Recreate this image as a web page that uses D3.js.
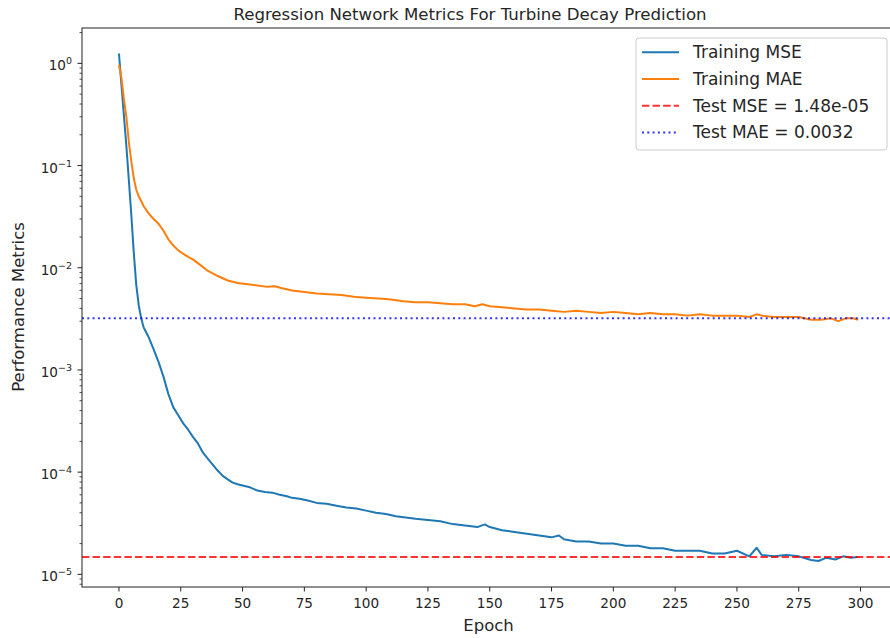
<!DOCTYPE html>
<html>
<head>
<meta charset="utf-8">
<script src="https://cdn.jsdelivr.net/npm/d3@7"></script>
<style>
  body { margin: 0; background: #fff; }
  svg { display: block; font-family: "DejaVu Sans", sans-serif; }
</style>
</head>
<body>
<svg width="890" height="638"></svg>
<script>
// Training curves (epoch, value)
const mseEpochs = [0,1,2,3,4,5,6,7,8,9,10,12,14,16,18,20,22,24,26,28,30,32,34,36,38,40,42,44,46,48,50,53,56,59,62,65,68,70,73,76,80,84,88,92,96,100,104,108,112,116,120,125,130,135,140,145,148,150,155,160,165,170,175,178,180,185,190,195,200,205,210,215,220,225,230,235,240,245,250,255,258,260,265,270,275,280,283,286,290,293,296,299];
const mseValues = [1.25,0.62,0.31,0.155,0.072,0.033,0.014,0.0068,0.0043,0.0032,0.0026,0.0021,0.00160,0.00120,0.00086,0.00058,0.00043,0.00036,0.00030,0.00026,0.00022,0.00019,0.000155,0.000135,0.000118,0.000103,0.000092,0.000085,0.000079,0.000076,0.000074,0.000071,0.000066,0.000064,0.000063,0.000060,0.000058,0.000056,0.000055,0.000053,0.000050,0.000049,0.000047,0.000045,0.000044,0.000042,0.000040,0.000039,0.000037,0.000036,0.000035,0.000034,0.000033,0.000031,0.000030,0.000029,0.0000308,0.000029,0.000027,0.000026,0.000025,0.000024,0.000023,0.000024,0.000022,0.000021,0.000021,0.000020,0.000020,0.000019,0.000019,0.000018,0.000018,0.000017,0.000017,0.000017,0.000016,0.000016,0.000017,0.000015,0.0000182,0.0000155,0.000015,0.0000155,0.000015,0.0000138,0.0000135,0.0000145,0.000014,0.000015,0.0000145,0.0000148];

const maeEpochs = [0,1,2,3,4,5,6,7,8,9,10,12,14,16,18,20,22,24,26,28,30,33,36,40,44,48,52,56,60,63,66,70,75,80,85,90,95,100,105,110,115,120,125,130,135,140,144,147,150,155,160,165,170,175,180,185,190,195,200,205,210,215,220,225,230,235,240,245,250,255,258,260,265,270,275,280,284,288,291,294,297,299];
const maeValues = [0.97,0.72,0.45,0.30,0.17,0.11,0.075,0.058,0.050,0.045,0.040,0.034,0.030,0.027,0.023,0.019,0.0165,0.0148,0.0137,0.0128,0.0120,0.0106,0.0093,0.0083,0.0075,0.0071,0.0069,0.0067,0.0065,0.0066,0.0063,0.0060,0.0058,0.0056,0.0055,0.0054,0.0052,0.0051,0.0050,0.0049,0.0047,0.0046,0.0046,0.0045,0.0044,0.0044,0.0042,0.0044,0.0042,0.0041,0.0040,0.0039,0.0039,0.0038,0.0037,0.0038,0.0037,0.0036,0.0037,0.0036,0.0035,0.0036,0.0035,0.0035,0.0034,0.0035,0.0034,0.0034,0.0034,0.0033,0.0035,0.0034,0.0033,0.0033,0.0033,0.0031,0.0031,0.0032,0.0030,0.0032,0.0032,0.0031];

const testMSE = 1.48e-05;
const testMAE = 0.0032;

const xTicks = [0,25,50,75,100,125,150,175,200,225,250,275,300];
const legendLabels = ["Training MSE", "Training MAE", "Test MSE = 1.48e-05", "Test MAE = 0.0032"];

const svg = d3.select("svg");
const margin = { top: 28, left: 82 };
const width = 813;   // axes run past the right edge, as in the picture
const height = 559;

const chart = svg.append("g")
    .attr("transform", `translate(${margin.left}, ${margin.top})`);

const x = d3.scaleLinear()
    .domain([-14.95, 313.95])
    .range([0, width]);

const y = d3.scaleLog()
    .domain([Math.pow(10, -5.124), Math.pow(10, 0.346)])
    .range([height, 0]);

const mse = mseEpochs.map((e, i) => [e, mseValues[i]]);
const mae = maeEpochs.map((e, i) => [e, maeValues[i]]);

const line = d3.line()
    .x(d => x(d[0]))
    .y(d => y(d[1]));

chart.append("path")
    .datum(mse)
    .attr("fill", "none")
    .attr("stroke", "#1f77b4")
    .attr("stroke-width", 2)
    .attr("stroke-linejoin", "round")
    .attr("d", line);

chart.append("path")
    .datum(mae)
    .attr("fill", "none")
    .attr("stroke", "#ff7f0e")
    .attr("stroke-width", 2)
    .attr("stroke-linejoin", "round")
    .attr("d", line);

// horizontal test lines
chart.append("line")
    .attr("x1", 0).attr("x2", width)
    .attr("y1", y(testMSE)).attr("y2", y(testMSE))
    .attr("stroke", "#ff0000").attr("stroke-opacity", 0.8)
    .attr("stroke-width", 2)
    .attr("stroke-dasharray", "7.4,3.2");

chart.append("line")
    .attr("x1", 0).attr("x2", width)
    .attr("y1", y(testMAE)).attr("y2", y(testMAE))
    .attr("stroke", "#0000ff").attr("stroke-opacity", 0.8)
    .attr("stroke-width", 2)
    .attr("stroke-dasharray", "2,3.3");

// frame
chart.append("rect")
    .attr("width", width).attr("height", height)
    .attr("fill", "none")
    .attr("stroke", "#222").attr("stroke-width", 1);

// x axis
const xAxis = chart.append("g")
    .attr("transform", `translate(0, ${height})`);
xTicks.forEach(t => {
    xAxis.append("line")
        .attr("x1", x(t)).attr("x2", x(t))
        .attr("y1", 0).attr("y2", 4.5)
        .attr("stroke", "#222");
    xAxis.append("text")
        .attr("x", x(t)).attr("y", 20.5)
        .attr("text-anchor", "middle")
        .attr("font-size", 13.6)
        .attr("fill", "#262626")
        .text(t);
});

// y axis (log)
const yAxis = chart.append("g");
y.ticks().forEach(t => {
    const lg = Math.log10(t);
    const major = Math.abs(lg - Math.round(lg)) < 1e-9;
    yAxis.append("line")
        .attr("x1", major ? -4.5 : -2.5).attr("x2", 0)
        .attr("y1", y(t)).attr("y2", y(t))
        .attr("stroke", "#222").attr("stroke-width", major ? 1 : 0.8);
    if (major) {
        const e = Math.round(lg);
        const label = yAxis.append("text")
            .attr("x", -10).attr("y", y(t) + 7)
            .attr("text-anchor", "end")
            .attr("font-size", 13.6)
            .attr("fill", "#262626");
        label.append("tspan").text("10");
        label.append("tspan")
            .attr("dy", -6)
            .attr("font-size", 9.5)
            .text(e === 0 ? "0" : "\u2212" + Math.abs(e));
    }
});

// labels
svg.append("text")
    .attr("x", 488.5).attr("y", 631)
    .attr("text-anchor", "middle")
    .attr("font-size", 16.5)
    .attr("fill", "#262626")
    .text("Epoch");

svg.append("text")
    .attr("transform", "translate(24, 307) rotate(-90)")
    .attr("text-anchor", "middle")
    .attr("font-size", 16.5)
    .attr("fill", "#262626")
    .text("Performance Metrics");

svg.append("text")
    .attr("x", 470).attr("y", 20)
    .attr("text-anchor", "middle")
    .attr("font-size", 16.6)
    .attr("fill", "#262626")
    .text("Regression Network Metrics For Turbine Decay Prediction");

// legend
const legend = svg.append("g").attr("transform", "translate(636, 38)");
legend.append("rect")
    .attr("width", 251).attr("height", 112)
    .attr("rx", 3)
    .attr("fill", "#fff").attr("fill-opacity", 0.8)
    .attr("stroke", "#ccc");

const legendStyles = [
    { color: "#1f77b4", dash: null, opacity: 1 },
    { color: "#ff7f0e", dash: null, opacity: 1 },
    { color: "#ff0000", dash: "7.4,3.2", opacity: 0.8 },
    { color: "#0000ff", dash: "2,3.3", opacity: 0.8 }
];

legendLabels.forEach((lab, i) => {
    const cy = 14.3 + i * 26.7;
    legend.append("line")
        .attr("x1", 6).attr("x2", 43)
        .attr("y1", cy).attr("y2", cy)
        .attr("stroke", legendStyles[i].color)
        .attr("stroke-opacity", legendStyles[i].opacity)
        .attr("stroke-width", 2)
        .attr("stroke-dasharray", legendStyles[i].dash);
    legend.append("text")
        .attr("x", 57).attr("y", cy + 6)
        .attr("font-size", 17)
        .attr("fill", "#262626")
        .text(lab);
});
</script>
</body>
</html>
